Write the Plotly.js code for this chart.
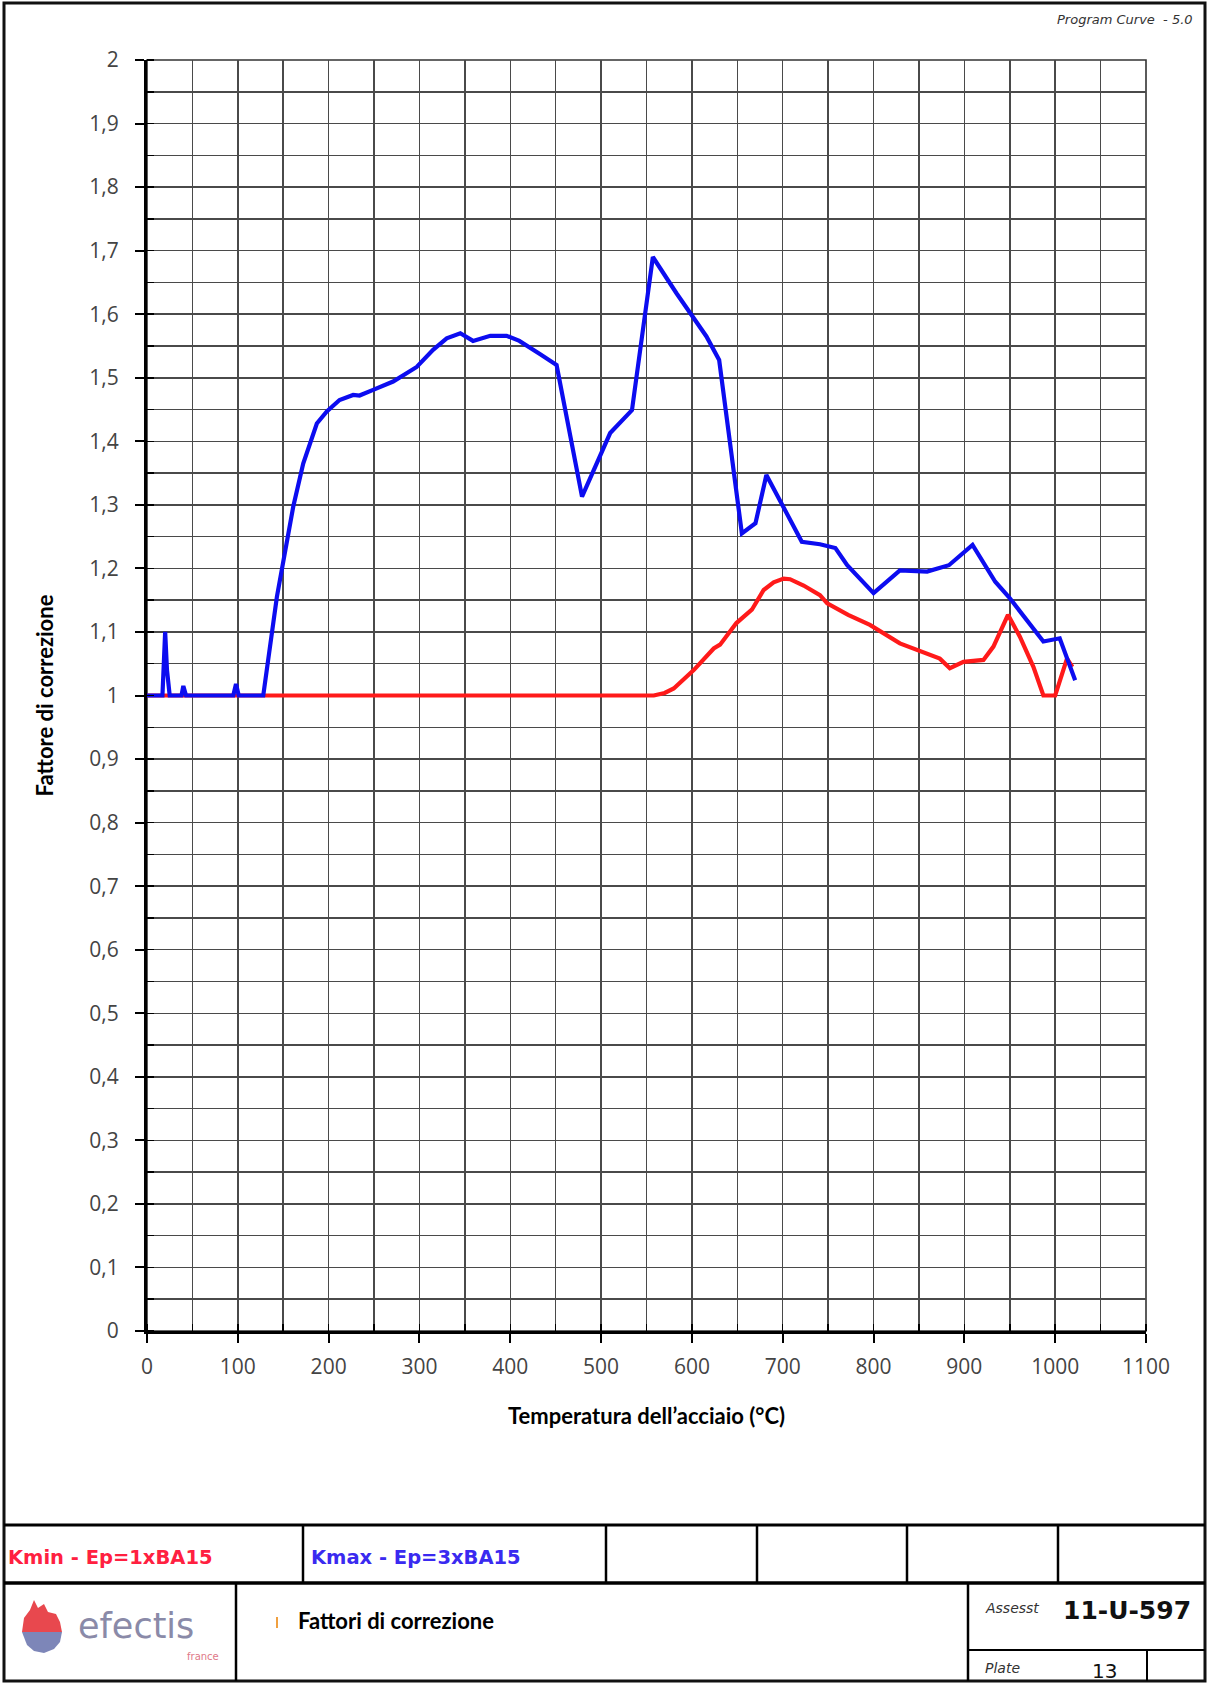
<!DOCTYPE html>
<html>
<head>
<meta charset="utf-8">
<script src="https://cdn.plot.ly/plotly-3.0.1.min.js"></script>
<style>
html,body{margin:0;padding:0;background:#fff;}
#chart{width:1210px;height:1683px;}
</style>
</head>
<body>
<div id="chart"></div>
<script>
// ---- data ----
const kmaxTemp = [0,17,20,22,25,38,40,43,95,98,101,128,143,150,161,172,187,198,212,227,234,249,271,297,315,330,345,359,378,396,410,433,451,479,510,534,557,583,616,630,655,670,682,721,741,758,771,800,829,859,883,909,934,949,987,1005,1022];
const kmaxVal  = [1,1,1.1,1.04,1,1,1.015,1,1,1.018,1,1,1.155,1.208,1.297,1.365,1.428,1.447,1.465,1.473,1.472,1.481,1.494,1.517,1.544,1.562,1.570,1.558,1.566,1.566,1.558,1.537,1.520,1.313,1.413,1.449,1.690,1.633,1.565,1.528,1.255,1.271,1.347,1.242,1.238,1.232,1.205,1.161,1.197,1.195,1.205,1.237,1.179,1.155,1.085,1.090,1.024];

const kminTemp = [0,128,558,570,580,602,624,631,649,666,679,690,701,708,723,741,749,772,796,829,866,873,884,899,921,932,948,961,976,987,1000,1013,1019];
const kminVal  = [1,1,1,1.004,1.011,1.04,1.074,1.08,1.114,1.135,1.166,1.178,1.184,1.183,1.173,1.158,1.145,1.127,1.111,1.082,1.061,1.058,1.043,1.053,1.056,1.077,1.127,1.093,1.045,1,1,1.058,1.045];

const xTickVals = [0,100,200,300,400,500,600,700,800,900,1000,1100];
const xTickText = ['0','100','200','300','400','500','600','700','800','900','1000','1100'];
const yTickVals = [0,0.1,0.2,0.3,0.4,0.5,0.6,0.7,0.8,0.9,1,1.1,1.2,1.3,1.4,1.5,1.6,1.7,1.8,1.9,2];
const yTickText = ['0','0,1','0,2','0,3','0,4','0,5','0,6','0,7','0,8','0,9','1','1,1','1,2','1,3','1,4','1,5','1,6','1,7','1,8','1,9','2'];

const seriesNames = ['Kmin - Ep=1xBA15','Kmax - Ep=3xBA15'];
const xTitle = 'Temperatura dell\u2019acciaio (°C)';
const yTitle = 'Fattore di correzione';
const docTitle = 'Fattori di correzione';

// ---- page geometry ----
const W=1210, H=1683, L=147, R=64, T=60, B=352;
const PW = W-L-R, PH = H-T-B;
const fx = p => (p-L)/PW;
const fy = p => (H-B-p)/PH;

const shapes = [];
function line(x0,y0,x1,y1,w,c){shapes.push({type:'line',xref:'paper',yref:'paper',x0:fx(x0),y0:fy(y0),x1:fx(x1),y1:fy(y1),line:{color:c||'#000',width:w},layer:'above'});}
function pathFrom(pts){return 'M'+pts.map(p=>fx(p[0]).toFixed(5)+','+fy(p[1]).toFixed(5)).join(' L')+' Z';}

// plot frame (top/right)
shapes.push({type:'rect',xref:'paper',yref:'paper',x0:0,y0:0,x1:1,y1:1,line:{color:'#333',width:1.6},layer:'below'});
// page border
shapes.push({type:'rect',xref:'paper',yref:'paper',x0:fx(4),y0:fy(1681),x1:fx(1205),y1:fy(3),line:{color:'#111',width:3},layer:'above'});
// title block
line(4,1525,1205,1525,3);
line(4,1583,1205,1583,3.5);
[303,606,757,907,1058].forEach(x=>line(x,1525,x,1583,2.5));
[236,968].forEach(x=>line(x,1583,x,1681,2.5));
line(968,1650,1205,1650,2);
line(1147,1650,1147,1681,2);
line(277,1617,277,1628,2,'#f0a040');
// logo flame
shapes.push({type:'path',xref:'paper',yref:'paper',path:pathFrom([[22,1632],[24,1618],[30,1610],[34,1600],[38,1608],[44,1604],[48,1612],[56,1614],[60,1622],[62,1632]]),fillcolor:'#e8484e',line:{width:0},layer:'above'});
shapes.push({type:'path',xref:'paper',yref:'paper',path:pathFrom([[22,1632],[62,1632],[60,1642],[54,1649],[44,1653],[34,1651],[27,1645]]),fillcolor:'#7d86b8',line:{width:0},layer:'above'});

const ann = [];
function txt(x,y,t,o){ann.push(Object.assign({xref:'paper',yref:'paper',x:fx(x),y:fy(y),text:t,showarrow:false,xanchor:'left',yanchor:'middle',font:{family:'DejaVu Sans',size:14,color:'#222'}},o||{}));}
txt(1195,20,'<i>Program Curve  - 5.0</i>',{xanchor:'right',font:{family:'DejaVu Sans',size:13,color:'#333'}});
txt(6,1557,seriesNames[0],{font:{family:'DejaVu Sans',size:19.5,color:'#ff2040',weight:'bold'}});
txt(309,1557,seriesNames[1],{font:{family:'DejaVu Sans',size:19.5,color:'#3a2af0',weight:'bold'}});
txt(296,1620,'<b>'+docTitle+'</b>',{font:{family:'Lato',size:22,color:'#000'}});
txt(76,1626,'efectis',{font:{family:'DejaVu Sans',size:35,color:'#8a8aa8'}});
txt(221,1656,'france',{xanchor:'right',font:{family:'DejaVu Sans',size:10,color:'#e07888'}});
txt(983,1608,'<i>Assesst</i>',{font:{family:'DejaVu Sans',size:14,color:'#333'}});
txt(1193,1610,'<b>11-U-597</b>',{xanchor:'right',font:{family:'DejaVu Sans',size:25,color:'#111'}});
txt(983,1668,'<i>Plate</i>',{font:{family:'DejaVu Sans',size:14,color:'#333'}});
txt(1104,1671,'13',{xanchor:'center',font:{family:'DejaVu Sans',size:20,color:'#111'}});

const traces = [
  {x:kminTemp,y:kminVal,name:seriesNames[0],type:'scatter',mode:'lines',line:{color:'#ff1a1a',width:4.2},cliponaxis:false},
  {x:kmaxTemp,y:kmaxVal,name:seriesNames[1],type:'scatter',mode:'lines',line:{color:'#0c0cf0',width:4.2},cliponaxis:false}
];

const tickFont = {family:'Open Sans',size:21,color:'#444'};
const grid = {color:'#4a4a4a',width:1.5};
const layout = {
  width:W,height:H,
  margin:{l:L,r:R,t:T,b:B,pad:0},
  paper_bgcolor:'#fff',plot_bgcolor:'#fff',
  showlegend:false,
  xaxis:{
    range:[0,1100],tickmode:'array',tickvals:xTickVals,ticktext:xTickText,
    showgrid:true,gridcolor:grid.color,gridwidth:grid.width,zeroline:false,
    showline:true,linecolor:'#000',linewidth:3,
    ticks:'outside',ticklen:9,tickwidth:2,tickcolor:'#000',
    tickfont:tickFont,ticklabelstandoff:6,
    minor:{dtick:50,tick0:0,showgrid:true,gridcolor:grid.color,gridwidth:grid.width,ticks:'inside',ticklen:7,tickwidth:1.5,tickcolor:'#000'},
    title:{text:'<b>'+xTitle+'</b>',font:{family:'Lato',size:22,color:'#000'},standoff:30},
    fixedrange:true
  },
  yaxis:{
    range:[0,2],tickmode:'array',tickvals:yTickVals,ticktext:yTickText,
    showgrid:true,gridcolor:grid.color,gridwidth:grid.width,zeroline:false,
    showline:true,linecolor:'#000',linewidth:3,
    ticks:'outside',ticklen:9,tickwidth:2,tickcolor:'#000',
    tickfont:tickFont,ticklabelstandoff:12,
    minor:{dtick:0.05,tick0:0,showgrid:true,gridcolor:grid.color,gridwidth:grid.width,ticks:'inside',ticklen:7,tickwidth:1.5,tickcolor:'#000'},
    title:{text:'<b>'+yTitle+'</b>',font:{family:'Lato',size:22,color:'#000'},standoff:30},
    fixedrange:true
  },
  shapes:shapes,
  annotations:ann
};
Plotly.newPlot('chart',traces,layout,{displayModeBar:false,staticPlot:true});
</script>
</body>
</html>
